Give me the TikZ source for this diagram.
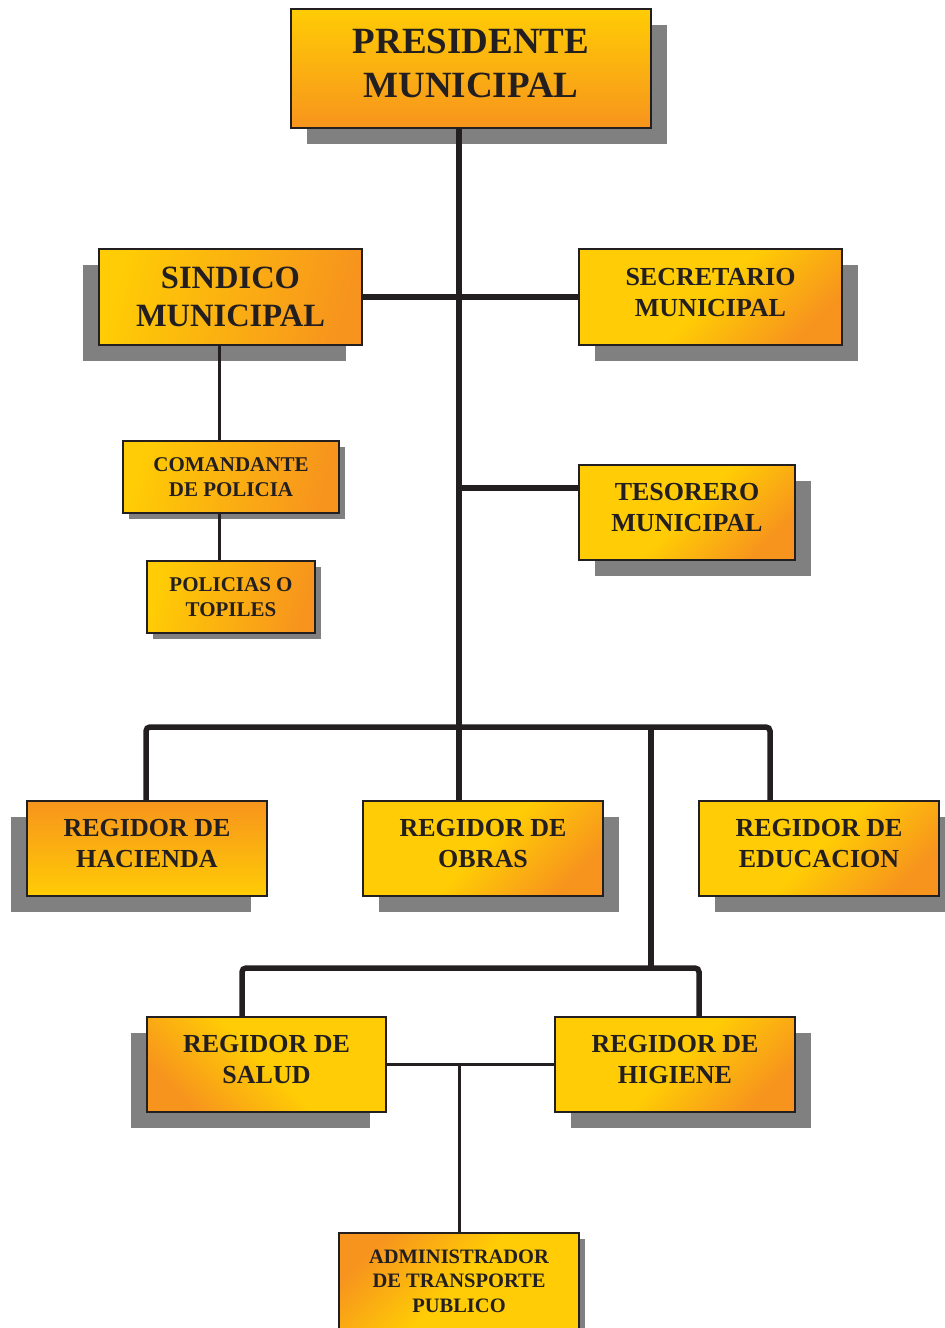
\documentclass[tikz,border=0pt]{standalone}
\usepackage{fontspec}
\setmainfont{Liberation Serif}
\usetikzlibrary{shadows}
\definecolor{boxyellow}{HTML}{FFCC05}
\definecolor{boxorange}{HTML}{F7941D}
\definecolor{ink}{HTML}{231F20}
\definecolor{shadegray}{HTML}{808080}

\begin{document}
\begin{tikzpicture}[x=1pt,y=-1pt,
  org box/.style={draw=ink,line width=1.3pt,inner sep=0pt,align=center,text=ink},
  huge font/.style={font=\fontsize{37}{44}\selectfont\bfseries,text depth=10pt},
  big font/.style={font=\fontsize{32.5}{38}\selectfont\bfseries},
  mid font/.style={font=\fontsize{26}{31}\selectfont\bfseries,text depth=10pt},
  small font/.style={font=\fontsize{21}{25}\selectfont\bfseries},
  tiny font/.style={font=\fontsize{20.5}{24.5}\selectfont\bfseries},
  shade right/.style={general shadow={fill=shadegray,shadow xshift=16pt,shadow yshift=-16pt}},
  shade left/.style={general shadow={fill=shadegray,shadow xshift=-16pt,shadow yshift=-16pt}},
  shade small/.style={general shadow={fill=shadegray,shadow xshift=6pt,shadow yshift=-6pt}},
  down fade/.style={top color=boxyellow,bottom color=boxorange},
  up fade/.style={top color=boxorange,bottom color=boxyellow},
  side fade/.style={top color=boxyellow,bottom color=boxorange,shading angle=75},
  corner fade/.style={top color=boxyellow,bottom color=boxorange,middle color=boxyellow,shading angle=45},
  low corner fade/.style={top color=boxyellow,bottom color=boxorange,middle color=boxyellow,shading angle=-45},
  top corner fade/.style={top color=boxorange,bottom color=boxyellow,middle color=boxyellow,shading angle=45},
  trunk/.style={draw=ink,line width=5.5pt},
  twig/.style={draw=ink,line width=3pt}]
  \clip (0,0) rectangle (945,1328);

  % cargos
  \node[org box,huge font,down fade,shade right,minimum width=360pt,minimum height=119pt] (pres) at (471,68.5) {PRESIDENTE\\MUNICIPAL};
  \node[org box,big font,side fade,shade left,minimum width=263pt,minimum height=96pt] (sind) at (230.5,297) {SINDICO\\MUNICIPAL};
  \node[org box,mid font,corner fade,shade right,minimum width=263pt,minimum height=96pt] (secr) at (710.5,297) {SECRETARIO\\MUNICIPAL};
  \node[org box,small font,side fade,shade small,minimum width=216pt,minimum height=72pt] (coman) at (231,477) {COMANDANTE\\DE POLICIA};
  \node[org box,small font,side fade,shade small,minimum width=168pt,minimum height=72pt] (poli) at (231,597) {POLICIAS O\\TOPILES};
  \node[org box,mid font,corner fade,shade right,minimum width=216pt,minimum height=95pt] (teso) at (687,512.5) {TESORERO\\MUNICIPAL};
  \node[org box,mid font,up fade,shade left,minimum width=240pt,minimum height=95pt] (hac) at (147,848.5) {REGIDOR DE\\HACIENDA};
  \node[org box,mid font,corner fade,shade right,minimum width=240pt,minimum height=95pt] (obras) at (483,848.5) {REGIDOR DE\\OBRAS};
  \node[org box,mid font,corner fade,shade right,minimum width=240pt,minimum height=95pt] (educ) at (819,848.5) {REGIDOR DE\\EDUCACION};
  \node[org box,mid font,low corner fade,shade left,minimum width=239pt,minimum height=95pt] (salud) at (266.5,1064.5) {REGIDOR DE\\SALUD};
  \node[org box,mid font,corner fade,shade right,minimum width=240pt,minimum height=95pt] (hig) at (675,1064.5) {REGIDOR DE\\HIGIENE};
  \node[org box,tiny font,top corner fade,shade small,minimum width=240pt,minimum height=96pt] (admin) at (459,1281) {ADMINISTRADOR\\DE TRANSPORTE\\PUBLICO};

  % puntos de union
  \coordinate (spine) at (459,727);
  \coordinate (fork) at (651,727);
  \coordinate (busleft) at (146,727);
  \coordinate (busright) at (770,727);
  \coordinate (lowfork) at (651,968);
  \coordinate (lowleft) at (242,968);
  \coordinate (lowright) at (699,968);
  \coordinate (tesjoin) at (459,488);
  \coordinate (polline) at (219,0);

  % lineas
  \draw[trunk] (pres.south -| spine) -- (spine |- obras.north);
  \draw[trunk] (sind.east) -- (secr.west);
  \draw[trunk] (tesjoin) -- (tesjoin -| teso.west);
  \draw[trunk,rounded corners=4pt] (busleft |- hac.north) -- (busleft) -- (busright) -- (busright |- educ.north);
  \draw[trunk] (fork) -- (lowfork);
  \draw[trunk,rounded corners=4pt] (lowleft |- salud.north) -- (lowleft) -- (lowright) -- (lowright |- hig.north);
  \draw[twig] (salud.east) -- (hig.west);
  \draw[twig] (admin.north) -- (admin.north |- salud.east);
  \draw[twig] (sind.south -| polline) -- (coman.north -| polline);
  \draw[twig] (coman.south -| polline) -- (poli.north -| polline);
\end{tikzpicture}
\end{document}
